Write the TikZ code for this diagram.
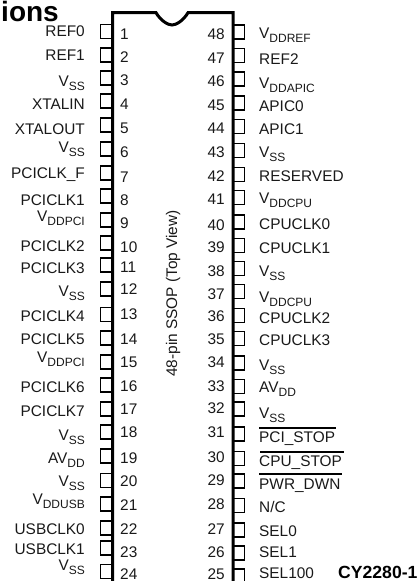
\documentclass[tikz,border=0pt]{standalone}
\usepackage{fontspec}
\setmainfont{Liberation Sans}
\newcommand{\sbs}[1]{\raisebox{-4.5pt}{\fontsize{12}{12}\selectfont #1}}
\tikzset{
 x=1pt,y=-1pt,
 lab/.style={inner sep=0pt,font=\fontsize{15.4}{16}\selectfont,text=black!90},
 llab/.style={lab,anchor=base east},
 rlab/.style={lab,anchor=base west},
 num/.style={inner sep=0pt,font=\fontsize{15.4}{16}\selectfont,text=black!90},
 body/.style={line width=3pt,line cap=butt},
 pinbox/.style={line width=1.5pt}
}
\begin{document}
\begin{tikzpicture}
\useasboundingbox (0,0) rectangle (420,581);
\node[inner sep=0pt,anchor=base east,font=\bfseries\fontsize{28}{28}\selectfont] (title) at (59,21) {ions};
\coordinate (bl) at (112.7,581);
\coordinate (tl) at (112.7,12.7);
\coordinate (nl) at (156,12.7);
\coordinate (nr) at (188,12.7);
\coordinate (tr) at (233,12.7);
\coordinate (br) at (233,581);
\draw[body] (bl) -- (tl) -- (nl) .. controls (161,21) and (168,25) .. (172,25) .. controls (176,25) and (183,21) .. (nr) -- (tr) -- (br);
\foreach \n/\py/\ny/\ly/\t in {
 1/31.5/39/36/REF0, 2/55/62/60/REF1, 3/78/85/86/V\sbs{SS}, 4/101/109/109/XTALIN,
 5/125/133/134/XTALOUT, 6/149/157/152/V\sbs{SS}, 7/173/182/178/PCICLK\_F, 8/196/205/205/PCICLK1,
 9/220/228/221/V\sbs{DDPCI}, 10/243/252/251/PCICLK2, 11/265/272/273/PCICLK3, 12/289/294/296/V\sbs{SS},
 13/314.5/319/321/PCICLK4, 14/338/344/344/PCICLK5, 15/362/367/362/V\sbs{DDPCI}, 16/385/391/392/PCICLK6,
 17/409/414/416/PCICLK7, 18/432/437/440/V\sbs{SS}, 19/456/463/463/AV\sbs{DD}, 20/480.5/486/486/V\sbs{SS},
 21/504/510/504/V\sbs{DDUSB}, 22/528/534/534/USBCLK0, 23/548/557/554/USBCLK1, 24/571.5/579/570/V\sbs{SS}}{
 \draw[pinbox] (112,\py-7) -- (100.5,\py-7) -- (100.5,\py+7) -- (112,\py+7);
 \node[llab] (l\n) at (85,\ly) {\t};
 \node[num,anchor=base west] (n\n) at (120,\ny) {\n};
}
\foreach \n/\py/\ny/\ly/\t in {
 48/32/39/38/V\sbs{DDREF}, 47/55.5/63/64/REF2, 46/79/86/88/V\sbs{DDAPIC}, 45/103/110/111/APIC0,
 44/126.5/133/134/APIC1, 43/150.5/157/157/V\sbs{SS}, 42/174.5/181/181/RESERVED, 41/197.5/204/203/V\sbs{DDCPU},
 40/222/230/229/CPUCLK0, 39/245.5/252/253/CPUCLK1, 38/268.5/276/276/V\sbs{SS}, 37/291.5/299/302/V\sbs{DDCPU},
 36/315.5/321/323/CPUCLK2, 35/338.5/344/345/CPUCLK3, 34/363/367/370/V\sbs{SS}, 33/386.5/391/392/AV\sbs{DD},
 32/409/413/418/V\sbs{SS}, 31/434/437/442/PCI\_STOP, 30/458.5/462/466/CPU\_STOP, 29/481/485/489/PWR\_DWN,
 28/505.5/509/512/{N/C}, 27/530/534/536/SEL0, 26/553/557/557/SEL1, 25/576/579/578.5/SEL100}{
 \draw[pinbox] (233,\py-7) -- (244.5,\py-7) -- (244.5,\py+7) -- (233,\py+7);
 \node[num,anchor=base east] (n\n) at (225,\ny) {\n};
 \node[rlab] (r\n) at (259,\ly) {\t};
}
\draw[line width=1.3pt] (259,428) -- (336,428);
\draw[line width=1.3pt] (260,452) -- (344,452);
\draw[line width=1.3pt] (259,474) -- (342,474);
\node[inner sep=0pt,anchor=base west,rotate=90,font=\fontsize{15.4}{16}\selectfont,text=black!90] (pkg) at (177,377) {48-pin SSOP (Top View)};
\node[inner sep=0pt,anchor=base west,font=\bfseries\fontsize{17.6}{18}\selectfont] (part) at (338,578) {CY2280-1};
\end{tikzpicture}
\end{document}
